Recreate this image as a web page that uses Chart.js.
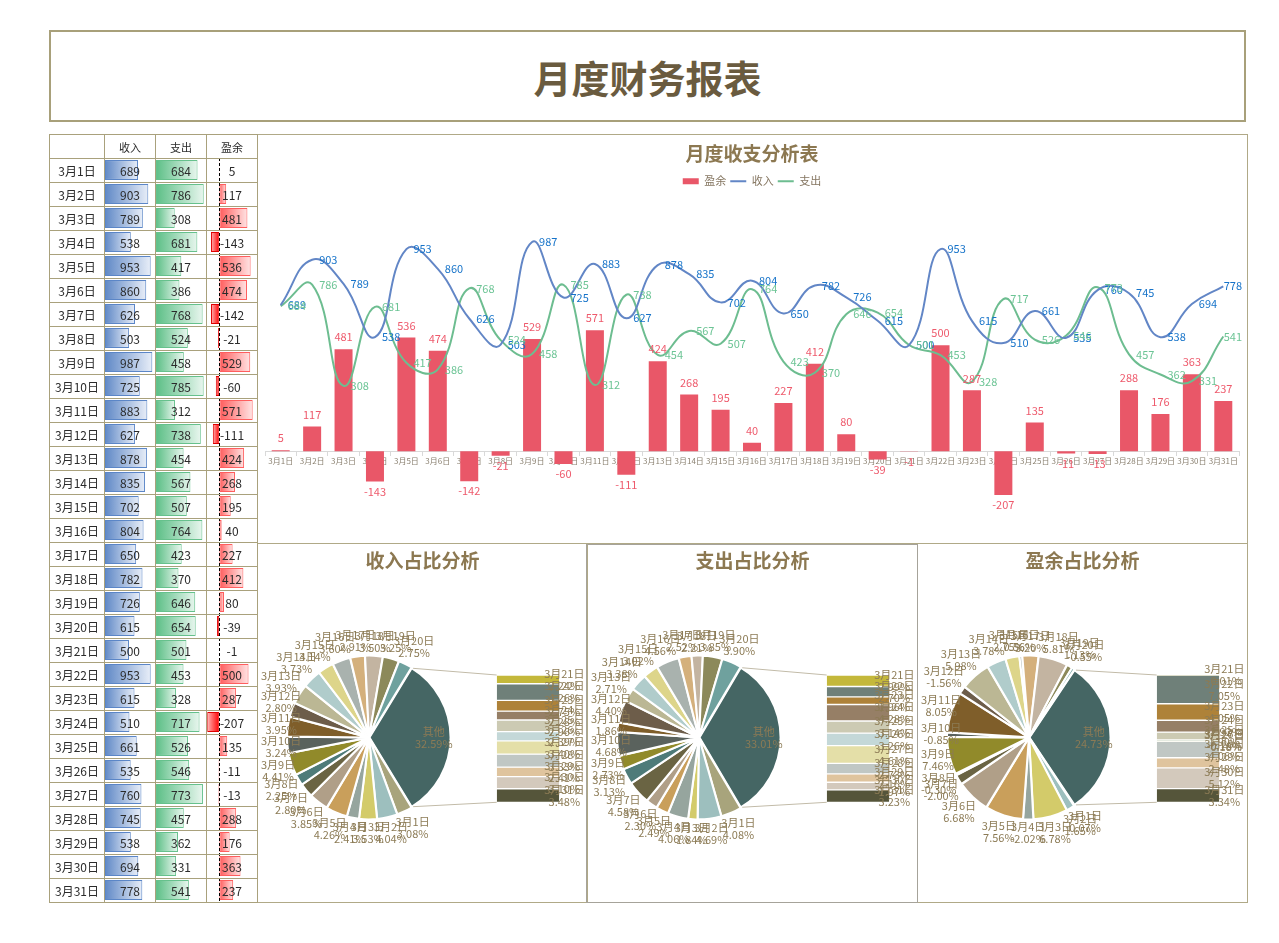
<!DOCTYPE html>
<html><head><meta charset="utf-8">
<script src="https://cdn.jsdelivr.net/npm/chart.js@4.4.1/dist/chart.umd.min.js"></script>
<style>
body{margin:0;background:#fff;font-family:'Noto Sans CJK SC','Noto Sans',sans-serif;}
#pageTitle{position:absolute;left:49px;top:30px;width:1197px;height:92px;box-sizing:border-box;border:2px solid #a8a07a;display:flex;align-items:center;justify-content:center;font-size:38px;font-weight:bold;color:#6a5b3f;}
.box{position:absolute;box-sizing:border-box;border:1px solid #b0a987;}
.cv{position:absolute;}
.ptitle{position:absolute;top:546px;width:329px;height:28px;line-height:28px;text-align:center;font-size:19px;font-weight:bold;color:#8c7851;z-index:3;}
#tbl{position:absolute;left:49px;top:134px;border-collapse:collapse;table-layout:fixed;z-index:2;background:transparent;}
#tbl td{border:1px solid #a9a17c;padding:0;height:23px;text-align:center;font-size:12px;color:#2b2b2b;background:transparent;line-height:22px;}
#tbl tr.hd td{font-size:11px;}
</style></head>
<body>
<div id="pageTitle">月度财务报表</div>
<table id="tbl"><colgroup><col style="width:55px"><col style="width:51px"><col style="width:51px"><col style="width:51px"></colgroup><tbody id="tb"></tbody></table>
<canvas id="dbIncome" class="cv" width="49" height="744" style="left:105px;top:158px;z-index:1"></canvas>
<canvas id="dbExpense" class="cv" width="49" height="744" style="left:156px;top:158px;z-index:1"></canvas>
<canvas id="dbSurplus" class="cv" width="49" height="744" style="left:207px;top:158px;z-index:1"></canvas>

<div class="box" style="left:257px;top:134px;width:991px;height:410px;"></div>
<canvas id="main" class="cv" width="988" height="407" style="left:258px;top:135px;"></canvas>

<div class="box" style="left:257px;top:543px;width:331px;height:360px;"></div>
<div class="box" style="left:917px;top:543px;width:331px;height:360px;"></div>
<div class="box" style="left:586px;top:544px;width:332px;height:359px;border-color:#a6a39a;"></div>
<div class="ptitle" id="pt1" style="left:258px;"></div>
<div class="ptitle" id="pt2" style="left:588px;"></div>
<div class="ptitle" id="pt3" style="left:918px;"></div>
<canvas id="pie1" class="cv" width="329" height="358" style="left:258px;top:544px;"></canvas>
<canvas id="bar1" class="cv" width="329" height="358" style="left:258px;top:544px;"></canvas>
<canvas id="pie2" class="cv" width="329" height="358" style="left:588px;top:544px;"></canvas>
<canvas id="bar2" class="cv" width="329" height="358" style="left:588px;top:544px;"></canvas>
<canvas id="pie3" class="cv" width="329" height="358" style="left:918px;top:544px;"></canvas>
<canvas id="bar3" class="cv" width="329" height="358" style="left:918px;top:544px;"></canvas>

<script>
// ---------- data ----------
const dates = ['3月1日','3月2日','3月3日','3月4日','3月5日','3月6日','3月7日','3月8日','3月9日','3月10日','3月11日','3月12日','3月13日','3月14日','3月15日','3月16日','3月17日','3月18日','3月19日','3月20日','3月21日','3月22日','3月23日','3月24日','3月25日','3月26日','3月27日','3月28日','3月29日','3月30日','3月31日'];
const income  = [689,903,789,538,953,860,626,503,987,725,883,627,878,835,702,804,650,782,726,615,500,953,615,510,661,535,760,745,538,694,778];
const expense = [684,786,308,681,417,386,768,524,458,785,312,738,454,567,507,764,423,370,646,654,501,453,328,717,526,546,773,457,362,331,541];
const surplus = [5,117,481,-143,536,474,-142,-21,529,-60,571,-111,424,268,195,40,227,412,80,-39,-1,500,287,-207,135,-11,-13,288,176,363,237];
const headers = ['收入','支出','盈余'];
const seriesNames = ['盈余','收入','支出'];
const mainTitle = '月度收支分析表';
const pieTitles = ['收入占比分析','支出占比分析','盈余占比分析'];
const otherLabel = '其他';
const mainPieCount = 20;

// ---------- styles ----------
const FONT = "'Noto Sans CJK SC','Noto Sans',sans-serif";
Chart.defaults.font.family = FONT;
const palette = ['#A8A47C','#9DBFBE','#D3CB6A','#96A59E','#C99F5B','#B09F88','#6A6443','#4E7B79','#918A2A','#5A625D',
  '#7F5E2A','#6D5D4A','#BBB794','#B0CCCB','#DDD58A','#A9B2AE','#D4B07C','#C3B4A1','#8C895A','#6FA19E',
  '#C4B83B','#6F8079','#AE8239','#967F66','#CCCAB3','#C4D8D8','#E4DFA8','#C0C7C4','#DFC49E','#D3C9BC','#55553A'];
const otherColor = '#456664';
const labelBrown = '#8c7b55';
const titleBrown = '#8c7851';

// ---------- table ----------
(function(){
  const tb = document.getElementById('tb');
  let h = '<tr class="hd"><td></td>' + headers.map(t=>'<td>'+t+'</td>').join('') + '</tr>';
  dates.forEach((d,i)=>{ h += '<tr><td>'+d+'</td><td>'+income[i]+'</td><td>'+expense[i]+'</td><td>'+surplus[i]+'</td></tr>'; });
  tb.innerHTML = h;
  pieTitles.forEach((t,i)=>{ document.getElementById('pt'+(i+1)).textContent = t; });
})();

function gradFill(solid, light){
  return (c)=>{
    const ch = c.chart, xs = ch.scales && ch.scales.x;
    if(!xs || c.raw === undefined) return solid;
    const x0 = xs.getPixelForValue(0), x1 = xs.getPixelForValue(c.raw);
    if(!isFinite(x0) || !isFinite(x1) || Math.abs(x1-x0) < 0.5) return solid;
    const g = ch.ctx.createLinearGradient(x0,0,x1,0);
    g.addColorStop(0, solid); g.addColorStop(1, light);
    return g;
  };
}
function dataBar(id, values, min, max, pos, neg, dashed){
  new Chart(document.getElementById(id), {
    type:'bar',
    data:{labels:dates, datasets:[{data:values,
      backgroundColor:(c)=> (c.raw<0 ? gradFill(neg[0],neg[1]) : gradFill(pos[0],pos[1]))(c),
      borderColor:(c)=> c.raw<0 ? neg[2] : pos[2],
      borderWidth:1, borderSkipped:false, barPercentage:0.83, categoryPercentage:1}]},
    options:{indexAxis:'y', responsive:false, animation:false, events:[],
      layout:{padding:0},
      scales:{x:{display:false,min:min,max:max}, y:{display:false}},
      plugins:{legend:{display:false},tooltip:{enabled:false}}},
    plugins: dashed ? [{id:'zeroLine', afterDraw(ch){
      const x = Math.round(ch.scales.x.getPixelForValue(0))+0.5, c = ch.ctx;
      c.save(); c.strokeStyle='#000'; c.lineWidth=1; c.setLineDash([3,2]);
      c.beginPath(); c.moveTo(x,0); c.lineTo(x,ch.height); c.stroke(); c.restore();
    }}] : []
  });
}
dataBar('dbIncome', income, 0, 1022, ['#5F88C6','#E8EEF8','#5B86C7'], null, false);
dataBar('dbExpense', expense, 0, 807, ['#5CBF86','#E8F6EE','#66C18C'], null, false);
dataBar('dbSurplus', surplus, -211, 628, ['#FF5B5B','#FFE4E4','#FF5E5E'], ['#FF0000','#FFB4B4','#E00000'], true);

// ---------- main combo chart ----------
const mainLabels = {
  id:'mainLabels',
  afterDatasetsDraw(chart){
    const ctx = chart.ctx; ctx.save();
    ctx.font = "11px " + FONT; ctx.textBaseline = 'middle';
    const mb = chart.getDatasetMeta(0);
    ctx.fillStyle = '#EE5A6C'; ctx.textAlign = 'center';
    mb.data.forEach((el,i)=>{ const v = chart.data.datasets[0].data[i]; ctx.fillText(String(v), el.x, v>=0 ? el.y-12 : el.y+10); });
    [[1,'#1673C9'],[2,'#6CC495']].forEach(([di,col])=>{
      const m = chart.getDatasetMeta(di); ctx.fillStyle = col; ctx.textAlign = 'left';
      m.data.forEach((p,i)=>{
        const t = String(chart.data.datasets[di].data[i]);
        const x = Math.min(p.x+7, chart.width - 4 - ctx.measureText(t).width);
        ctx.fillText(t, x, p.y);
      });
    });
    ctx.restore();
  }
};
new Chart(document.getElementById('main'), {
  type:'bar',
  data:{labels:dates, datasets:[
    {type:'bar', label:seriesNames[0], data:surplus, backgroundColor:'#E95768', barPercentage:0.573, categoryPercentage:1, order:1},
    {type:'line', label:seriesNames[1], data:income, borderColor:'#6286C6', backgroundColor:'#6286C6', borderWidth:2, pointRadius:0, tension:0.45, order:0},
    {type:'line', label:seriesNames[2], data:expense, borderColor:'#6DBD90', backgroundColor:'#6DBD90', borderWidth:2, pointRadius:0, tension:0.45, order:0}
  ]},
  options:{responsive:false, animation:false, events:[],
    layout:{padding:{left:7,right:7,bottom:6,top:0}},
    scales:{
      x:{position:{y:0}, grid:{display:true, drawOnChartArea:false, color:'#d9d9d9', tickLength:4, offset:true},
         border:{color:'#d9d9d9'}, ticks:{font:{size:8}, color:'#8a8070', maxRotation:0, minRotation:0, autoSkip:false, padding:1}},
      y:{display:false, min:-400, max:1200}
    },
    plugins:{
      title:{display:true, text:mainTitle, font:{size:19, weight:'bold'}, color:titleBrown, padding:{top:7,bottom:7}},
      legend:{labels:{usePointStyle:true, pointStyleWidth:16, boxHeight:6, font:{size:11}, color:'#857661', padding:4,
        sort:(a,b)=>a.datasetIndex-b.datasetIndex,
        generateLabels(chart){
          const items = Chart.defaults.plugins.legend.labels.generateLabels(chart);
          items.forEach(it=>{ const ds = chart.data.datasets[it.datasetIndex];
            it.pointStyle = ds.type==='bar' ? 'rect' : 'line';
            if(ds.type==='bar'){ it.lineWidth = 0; } });
          return items;
        }}},
      tooltip:{enabled:false}
    }
  },
  plugins:[mainLabels]
});

// ---------- pie of pie panels ----------
function piePanel(n, values){
  const absTotal = values.reduce((s,v)=>s+Math.abs(v),0);
  const rest = values.slice(mainPieCount);
  const otherAbs = rest.reduce((s,v)=>s+Math.abs(v),0);
  const otherSigned = rest.reduce((s,v)=>s+v,0);
  const pieVals = [otherAbs].concat(values.slice(0,mainPieCount));
  const pieLabelVals = [otherSigned].concat(values.slice(0,mainPieCount));
  const pieLabels = [otherLabel].concat(dates.slice(0,mainPieCount));
  const pieColors = [otherColor].concat(palette.slice(0,mainPieCount));
  const pct = v => (v/absTotal*100).toFixed(2)+'%';
  const OFF = 2;
  const pieLbl = {id:'pieLbl', afterDatasetsDraw(chart){
    const ctx = chart.ctx, meta = chart.getDatasetMeta(0);
    ctx.save(); ctx.font = "11px " + FONT; ctx.fillStyle = labelBrown; ctx.textAlign='center'; ctx.textBaseline='middle';
    meta.data.forEach((arc,i)=>{
      const p = arc.getProps(['x','y','startAngle','endAngle','outerRadius'], true);
      const mid = (p.startAngle+p.endAngle)/2, R = p.outerRadius + OFF;
      const l1 = pieLabels[i], l2 = pct(pieLabelVals[i]);
      const cs = Math.cos(mid), sn = Math.sin(mid);
      let cx, cy;
      if(i===0){ cx = p.x + cs*R*0.78; cy = p.y + sn*R*0.78; }
      else {
        const w = Math.max(ctx.measureText(l1).width, ctx.measureText(l2).width), hh = 26;
        const d = R + 1 + (Math.abs(cs)*w/2 + Math.abs(sn)*hh/2)*0.85;
        cx = p.x + cs*d; cy = p.y + sn*d;
        cx = Math.max(cx, w/2 + 3);
      }
      ctx.fillText(l1, cx, cy-6); ctx.fillText(l2, cx, cy+6);
    });
    ctx.restore();
  }};
  const pie = new Chart(document.getElementById('pie'+n), {
    type:'pie',
    data:{labels:pieLabels, datasets:[{data:pieVals, backgroundColor:pieColors, borderColor:'#fff', borderWidth:2, offset:OFF}]},
    options:{responsive:false, animation:false, events:[], rotation: 90 - otherAbs/absTotal*180,
      layout:{padding:{left:28,right:135,bottom:81.5,top:110.5}},
      plugins:{legend:{display:false}, tooltip:{enabled:false}}},
    plugins:[pieLbl]
  });
  const barLbl = {id:'barLbl', afterDatasetsDraw(chart){
    const ctx = chart.ctx; ctx.save();
    const a = pie.getDatasetMeta(0).data[0].getProps(['x','y','startAngle','endAngle','outerRadius'], true);
    const mid = (a.startAngle+a.endAngle)/2, ox = Math.cos(mid)*OFF, oy = Math.sin(mid)*OFF;
    const e0 = chart.getDatasetMeta(0).data[0];
    const left = e0.x - e0.width/2, top = chart.chartArea.top, bottom = chart.chartArea.bottom;
    ctx.strokeStyle = '#c2bba8'; ctx.lineWidth = 1;
    ctx.beginPath();
    ctx.moveTo(a.x+ox+Math.cos(a.startAngle)*a.outerRadius, a.y+oy+Math.sin(a.startAngle)*a.outerRadius); ctx.lineTo(left, top);
    ctx.moveTo(a.x+ox+Math.cos(a.endAngle)*a.outerRadius, a.y+oy+Math.sin(a.endAngle)*a.outerRadius); ctx.lineTo(left, bottom);
    ctx.stroke();
    ctx.font = "11px " + FONT; ctx.fillStyle = labelBrown; ctx.textAlign='center'; ctx.textBaseline='middle';
    chart.data.datasets.forEach((ds,k)=>{
      const el = chart.getDatasetMeta(k).data[0];
      const cy = (el.y + el.base)/2, cx = el.x + el.width/2 + 5;
      ctx.fillText(dates[mainPieCount+k], cx, cy-6); ctx.fillText(pct(rest[k]), cx, cy+6);
    });
    ctx.restore();
  }};
  new Chart(document.getElementById('bar'+n), {
    type:'bar',
    data:{labels:[otherLabel], datasets: rest.map((v,k)=>({label:dates[mainPieCount+k], data:[Math.abs(v)],
      backgroundColor:palette[mainPieCount+k], borderColor:'#fff', borderWidth:{top:1,bottom:1,left:0,right:0}, borderSkipped:false,
      barPercentage:1, categoryPercentage:1}))},
    options:{responsive:false, animation:false, events:[],
      layout:{padding:{left:238.7,right:27.7,top:131,bottom:99.7}},
      scales:{x:{display:false, stacked:true}, y:{display:false, stacked:true, reverse:true, min:0, max:otherAbs}},
      plugins:{legend:{display:false}, tooltip:{enabled:false}}},
    plugins:[barLbl]
  });
}
piePanel(1, income);
piePanel(2, expense);
piePanel(3, surplus);
</script>
</body></html>
